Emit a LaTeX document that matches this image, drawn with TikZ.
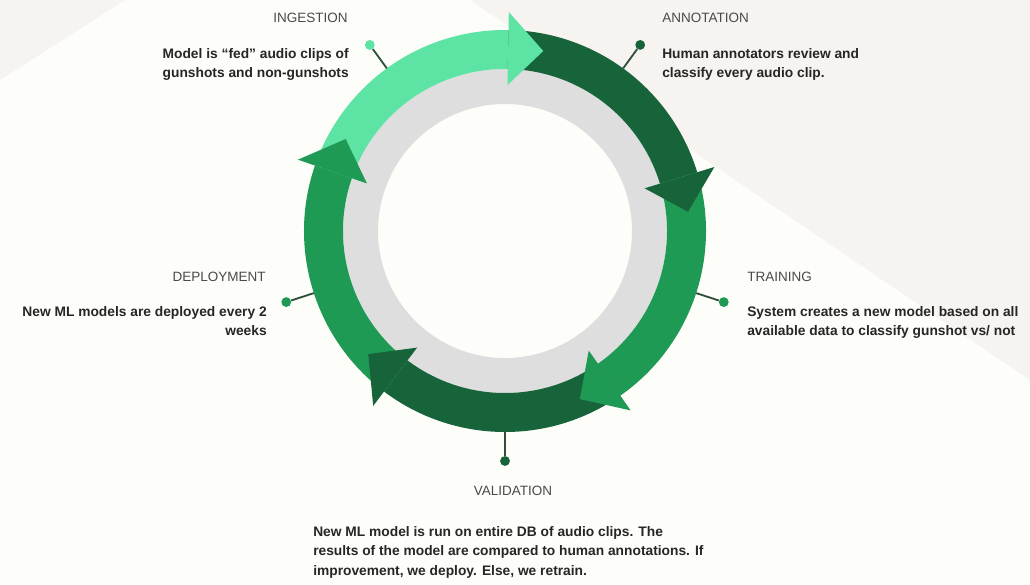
\documentclass[tikz,border=0pt]{standalone}
\usepackage{fontspec}
\setmainfont{Liberation Sans}
\definecolor{lightgr}{HTML}{5DE3A3}
\definecolor{darkgr}{HTML}{17633A}
\definecolor{midgr}{HTML}{1F9A55}
\definecolor{ringgray}{HTML}{DEDEDE}
\definecolor{paper}{HTML}{FDFDF9}
\definecolor{paperdark}{HTML}{F6F3F0}
\definecolor{headgray}{HTML}{4A4A4A}
\definecolor{stemcol}{HTML}{2D4F3B}

\begin{document}
\begin{tikzpicture}[x=0.025cm,y=-0.025cm,
  stagename/.style={font=\fontsize{9.6}{12}\selectfont, text=headgray, inner sep=0},
  stagetext/.style={font=\fontsize{9.8}{13.8}\selectfont\bfseries, text=black!85, inner sep=0},
  stagedot/.style={circle, inner sep=0, minimum size=7pt},
  stem/.style={stemcol, line width=1.3pt}]
\useasboundingbox (0,0) rectangle (1030,584);
\fill[paper] (0,0) rectangle (1030,584);
\fill[paperdark] (470,0) -- (1030,0) -- (1030,380) -- cycle;
\fill[paperdark] (0,0) -- (125,0) -- (0,80) -- cycle;

\begin{scope}[shift={(505,231)}, yscale=-1]
% grey ring
\fill[ringgray, even odd rule] (0,0) circle[radius=162] (0,0) circle[radius=127];
% arrow bodies
\fill[lightgr] (161:201) arc[start angle=161, end angle=89, radius=201] -- (89:162) arc[start angle=89, end angle=161, radius=162] -- cycle;
\fill[darkgr] (89:201) arc[start angle=89, end angle=17, radius=201] -- (17:162) arc[start angle=17, end angle=89, radius=162] -- cycle;
\fill[midgr] (17:201) arc[start angle=17, end angle=-55, radius=201] -- (-55:162) arc[start angle=-55, end angle=17, radius=162] -- cycle;
\fill[darkgr] (-55:201) arc[start angle=-55, end angle=-127, radius=201] -- (-127:162) arc[start angle=-127, end angle=-55, radius=162] -- cycle;
\fill[midgr] (233:201) arc[start angle=233, end angle=161, radius=201] -- (161:162) arc[start angle=161, end angle=233, radius=162] -- cycle;
% arrow heads
\fill[lightgr] (89:219) -- (78:184) -- (89:146) -- cycle;
\fill[darkgr] (17:219) -- (6:184) -- (17:146) -- cycle;
\fill[midgr] (-55:219) -- (-66:184) -- (-55:146) -- cycle;
\fill[darkgr] (-127:219) -- (-138:184) -- (-127:146) -- cycle;
\fill[midgr] (161:219) -- (150:184) -- (161:146) -- cycle;
% pins
\node[stagedot, fill=lightgr] (ingdot) at (126:230) {};
\node[stagedot, fill=darkgr] (anndot) at (54:230) {};
\node[stagedot, fill=midgr] (traindot) at (-18:230) {};
\node[stagedot, fill=darkgr] (valdot) at (-90:230) {};
\node[stagedot, fill=midgr] (depdot) at (198:230) {};
\coordinate (ingring) at (126:201);
\coordinate (annring) at (54:201);
\coordinate (trainring) at (-18:201);
\coordinate (valring) at (-90:201);
\coordinate (depring) at (198:201);
\end{scope}

\draw[stem] (ingdot) -- (ingring);
\draw[stem] (anndot) -- (annring);
\draw[stem] (traindot) -- (trainring);
\draw[stem] (valdot) -- (valring);
\draw[stem] (depdot) -- (depring);

% texts
\node[stagename, anchor=base east] (ingname) at (348,23) {INGESTION};
\node[stagetext, anchor=north east, align=right] (ingtext) at (349,48) {Model is “fed” audio clips of\\gunshots and non-gunshots};
\node[stagename, anchor=base west] (annname) at (662,23) {ANNOTATION};
\node[stagetext, anchor=north west, align=left] (anntext) at (662,48) {Human annotators review and\\classify every audio clip.};
\node[stagename, anchor=base east] (depname) at (266,281) {DEPLOYMENT};
\node[stagetext, anchor=north east, align=right] (deptext) at (267,306) {New ML models are deployed every 2\\weeks};
\node[stagename, anchor=base west] (trainname) at (747,281) {TRAINING};
\node[stagetext, anchor=north west, align=left] (traintext) at (747,306) {System creates a new model based on all\\available data to classify gunshot vs/ not};
\node[stagename, anchor=base] (valname) at (513,495) {VALIDATION};
\node[stagetext, anchor=north west, align=left] (valtext) at (313,526) {New ML model is run on entire DB of audio clips. The\\results of the model are compared to human annotations. If\\improvement, we deploy. Else, we retrain.};
\end{tikzpicture}
\end{document}
